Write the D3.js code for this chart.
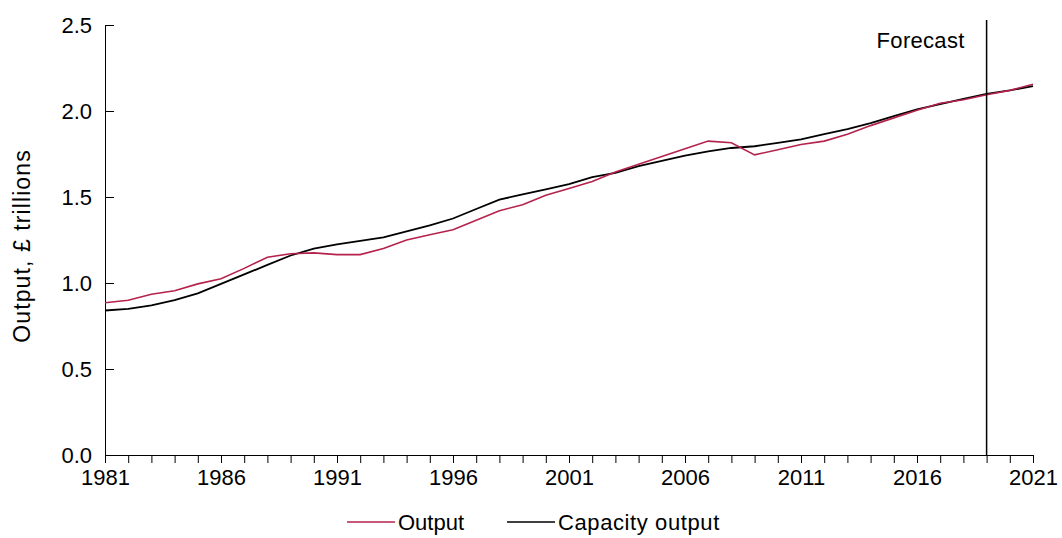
<!DOCTYPE html>
<html>
<head>
<title>Output and capacity output</title>
<script src="https://d3js.org/d3.v7.min.js"></script>
<style>
  body { margin: 0; background: #fff; }
  text { font-family: "Liberation Sans", Arial, sans-serif; fill: #000; }
</style>
</head>
<body>
<svg id="chart"></svg>
<script>
// years 1981..2021
var years = d3.range(1981, 2022);

var output = [0.885, 0.90, 0.935, 0.955, 0.995, 1.025, 1.085, 1.15, 1.17, 1.175,
  1.165, 1.165, 1.20, 1.25, 1.28, 1.31, 1.365, 1.42, 1.455, 1.51,
  1.55, 1.59, 1.645, 1.69, 1.735, 1.78, 1.825, 1.815, 1.745, 1.775,
  1.805, 1.825, 1.865, 1.915, 1.96, 2.005, 2.045, 2.065, 2.095, 2.12, 2.155];

var capacity = [0.84, 0.85, 0.87, 0.90, 0.94, 0.995, 1.05, 1.105, 1.16, 1.20,
  1.225, 1.245, 1.265, 1.30, 1.335, 1.375, 1.43, 1.485, 1.515, 1.545,
  1.575, 1.615, 1.64, 1.68, 1.71, 1.74, 1.765, 1.785, 1.795, 1.815,
  1.835, 1.865, 1.895, 1.93, 1.97, 2.01, 2.04, 2.07, 2.10, 2.12, 2.145];

var yTicks = [0, 0.5, 1.0, 1.5, 2.0, 2.5];
var xLabels = [1981, 1986, 1991, 1996, 2001, 2006, 2011, 2016, 2021];
var forecastYear = 2019;

var W = 1062, H = 538;
var margin = { top: 25, right: 29, bottom: 83, left: 105 };

var svg = d3.select("#chart").attr("width", W).attr("height", H);
var g = svg.append("g").attr("transform", "translate(" + margin.left + "," + margin.top + ")");
var width = W - margin.left - margin.right,
    height = H - margin.top - margin.bottom;

var x = d3.scaleLinear().domain([1981, 2021]).range([0, width]);
var y = d3.scaleLinear().domain([0, 2.5]).range([height, 0]);

// y axis, ticks pointing inward
var yAxis = g.append("g")
  .call(d3.axisRight(y).tickValues(yTicks).tickFormat(d3.format(".1f")).tickSize(9).tickSizeOuter(0));
yAxis.select(".domain").attr("stroke", "#000");
yAxis.selectAll("text").attr("x", -13).attr("text-anchor", "end")
  .style("font-size", "22px");

// x axis: tick every year, label every 5
var xAxis = g.append("g").attr("transform", "translate(0," + height + ")")
  .call(d3.axisBottom(x).tickValues(years).tickSize(8).tickSizeOuter(0)
    .tickFormat(function(d) { return xLabels.indexOf(d) >= 0 ? d : ""; }));
xAxis.selectAll("text").attr("y", 14).style("font-size", "22px");

// lines
var line = d3.line().x(function(d, i) { return x(years[i]); }).y(function(d) { return y(d); });

g.append("path").datum(capacity)
  .attr("fill", "none").attr("stroke", "#000").attr("stroke-width", 1.8).attr("d", line);
g.append("path").datum(output)
  .attr("fill", "none").attr("stroke", "#b5224b").attr("stroke-width", 1.6).attr("d", line);

// forecast marker
g.append("line")
  .attr("x1", x(forecastYear)).attr("x2", x(forecastYear))
  .attr("y1", -5).attr("y2", height)
  .attr("stroke", "#000").attr("stroke-width", 1.5);
g.append("text")
  .attr("x", x(forecastYear) - 22).attr("y", 23)
  .attr("text-anchor", "end")
  .style("font-size", "22px").style("letter-spacing", "0.3px")
  .text("Forecast");

// y label
svg.append("text")
  .attr("transform", "translate(30," + (margin.top + height / 2 + 6) + ") rotate(-90)")
  .attr("text-anchor", "middle")
  .style("font-size", "23px").style("letter-spacing", "1.1px")
  .text("Output, £ trillions");

// legend
var legend = [{ name: "Output", color: "#b5224b", x: 347 }, { name: "Capacity output", color: "#000", x: 507 }];
var lg = svg.selectAll(".lg").data(legend).enter().append("g")
  .attr("transform", function(d) { return "translate(" + d.x + ",522)"; });
lg.append("line").attr("x1", 0).attr("x2", 48).attr("y1", 0).attr("y2", 0)
  .attr("stroke", function(d) { return d.color; }).attr("stroke-width", 1.6);
lg.append("text").attr("x", 51).attr("y", 8)
  .style("font-size", "22px").style("letter-spacing", function(d, i) { return i ? "0.6px" : "0px"; })
  .text(function(d) { return d.name; });
</script>
</body>
</html>
